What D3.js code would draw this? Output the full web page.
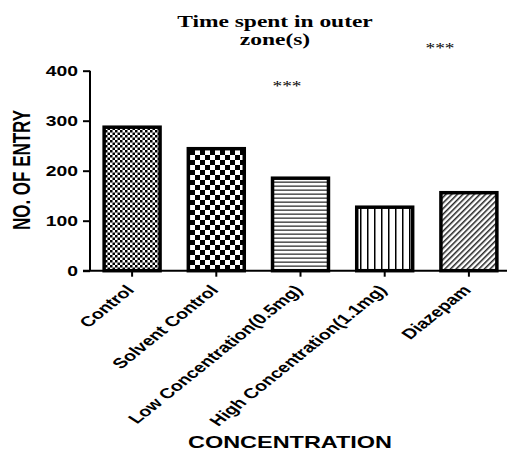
<!DOCTYPE html>
<html>
<head>
<meta charset="utf-8">
<script src="https://cdn.jsdelivr.net/npm/d3@7"></script>
<style>
  html, body { margin: 0; padding: 0; background: #fff; }
  svg { display: block; }
</style>
</head>
<body>
<div id="chart"></div>
<script>
(function () {
  // data
  const categories = ["Control", "Solvent Control", "Low Concentration(0.5mg)", "High Concentration(1.1mg)", "Diazepam"];
  const values = [287, 244, 185, 127, 156];
  const patterns = ["checkFine", "checkCoarse", "hLines", "vLines", "diag"];
  const yTicks = [0, 100, 200, 300, 400];
  const stars = [{ x: 287, y: 91, text: "***" }, { x: 440, y: 53, text: "***" }];

  const width = 507;
  const height = 450;
  const sx = 1.38; // the original picture is stretched sideways

  const svg = d3.select("#chart")
    .append("svg")
    .attr("width", width)
    .attr("height", height);

  // fill patterns
  const defs = svg.append("defs");

  const pf = defs.append("pattern").attr("id", "checkFine")
    .attr("patternUnits", "userSpaceOnUse").attr("width", 5).attr("height", 5);
  pf.append("rect").attr("width", 5).attr("height", 5).attr("fill", "#fff");
  pf.append("rect").attr("width", 2.5).attr("height", 2.5).attr("fill", "#000");
  pf.append("rect").attr("x", 2.5).attr("y", 2.5).attr("width", 2.5).attr("height", 2.5).attr("fill", "#000");

  const pc = defs.append("pattern").attr("id", "checkCoarse")
    .attr("patternUnits", "userSpaceOnUse").attr("width", 10).attr("height", 10);
  pc.append("rect").attr("width", 10).attr("height", 10).attr("fill", "#fff");
  pc.append("rect").attr("width", 5).attr("height", 5).attr("fill", "#000");
  pc.append("rect").attr("x", 5).attr("y", 5).attr("width", 5).attr("height", 5).attr("fill", "#000");

  const ph = defs.append("pattern").attr("id", "hLines")
    .attr("patternUnits", "userSpaceOnUse").attr("width", 8).attr("height", 4);
  ph.append("rect").attr("width", 8).attr("height", 4).attr("fill", "#fff");
  ph.append("rect").attr("y", 1.5).attr("width", 8).attr("height", 1.3).attr("fill", "#333");

  const pv = defs.append("pattern").attr("id", "vLines")
    .attr("patternUnits", "userSpaceOnUse").attr("width", 7).attr("height", 8);
  pv.append("rect").attr("width", 7).attr("height", 8).attr("fill", "#fff");
  pv.append("rect").attr("x", 3).attr("width", 1.5).attr("height", 8).attr("fill", "#000");

  const pd = defs.append("pattern").attr("id", "diag")
    .attr("patternUnits", "userSpaceOnUse").attr("width", 4).attr("height", 4)
    .attr("patternTransform", "rotate(45)");
  pd.append("rect").attr("width", 4).attr("height", 4).attr("fill", "#fff");
  pd.append("rect").attr("width", 1.5).attr("height", 4).attr("fill", "#222");

  const x = d3.scaleBand()
    .domain(categories)
    .range([90, 511])
    .paddingInner(0.3)
    .paddingOuter(0.15);

  const y = d3.scaleLinear()
    .domain([0, 400])
    .range([270.7, 70.7]);

  // bars
  svg.append("g")
    .selectAll("rect")
    .data(values)
    .enter()
    .append("rect")
    .attr("x", (d, i) => x(categories[i]) + 1.5)
    .attr("y", d => y(d))
    .attr("width", x.bandwidth() - 3)
    .attr("height", d => y(0) - y(d))
    .attr("fill", (d, i) => `url(#${patterns[i]})`)
    .attr("stroke", "#000")
    .attr("stroke-width", 3.5);

  // y axis
  const yAxis = svg.append("g")
    .attr("transform", "translate(90,0)")
    .call(d3.axisLeft(y).tickValues(yTicks).tickSize(7).tickFormat(d3.format("d")));
  yAxis.select(".domain").attr("stroke", "#000").attr("stroke-width", 2).attr("d", `M0,${y(400)}V${y(0)}`);
  yAxis.selectAll(".tick line").attr("stroke", "#000").attr("stroke-width", 2);
  yAxis.selectAll(".tick text").remove();
  yAxis.selectAll(".tick").append("g")
    .attr("transform", "translate(-12,0) scale(" + sx + ",1)")
    .append("text")
    .attr("text-anchor", "end")
    .attr("dy", "0.36em")
    .style("font-family", "'Liberation Sans', Arial, sans-serif")
    .style("font-weight", "bold")
    .style("font-size", "14px")
    .attr("fill", "#000")
    .text(d => d);

  // x axis
  const xAxis = svg.append("g")
    .attr("transform", `translate(0,${y(0)})`)
    .call(d3.axisBottom(x).tickSize(6).tickSizeOuter(0));
  xAxis.select(".domain").attr("stroke", "#000").attr("stroke-width", 2).attr("d", "M83,0H507");
  xAxis.selectAll(".tick line").attr("stroke", "#000").attr("stroke-width", 2);
  xAxis.selectAll(".tick text").remove();
  xAxis.selectAll(".tick").append("g")
    .attr("transform", "translate(3,20) scale(" + sx + ",1) rotate(-48)")
    .append("text")
    .attr("text-anchor", "end")
    .style("font-family", "'Liberation Sans', Arial, sans-serif")
    .style("font-weight", "bold")
    .style("font-size", "14.3px")
    .attr("fill", "#000")
    .text(d => d);

  // title
  const title = svg.append("g")
    .attr("transform", "translate(275,0) scale(" + sx + ",1)")
    .append("text")
    .attr("text-anchor", "middle")
    .style("font-family", "'Liberation Serif', 'Times New Roman', serif")
    .style("font-weight", "bold")
    .style("font-size", "17px")
    .attr("fill", "#000");
  title.append("tspan").attr("x", 0).attr("y", 27).text("Time spent in outer");
  title.append("tspan").attr("x", 0).attr("y", 45).text("zone(s)");

  // significance stars
  svg.append("g")
    .selectAll("g")
    .data(stars)
    .enter()
    .append("g")
    .attr("transform", d => `translate(${d.x},${d.y}) scale(${sx},1)`)
    .append("text")
    .attr("text-anchor", "middle")
    .style("font-family", "'Liberation Serif', 'Times New Roman', serif")
    .style("font-size", "14px")
    .attr("fill", "#000")
    .text(d => d.text);

  // axis titles
  svg.append("g")
    .attr("transform", "translate(30,170) scale(" + sx + ",1) rotate(-90)")
    .append("text")
    .attr("text-anchor", "middle")
    .style("font-family", "'Liberation Sans', Arial, sans-serif")
    .style("font-weight", "bold")
    .style("font-size", "17px")
    .attr("fill", "#000")
    .text("NO. OF ENTRY");

  svg.append("g")
    .attr("transform", "translate(290,448) scale(" + sx + ",1)")
    .append("text")
    .attr("text-anchor", "middle")
    .style("font-family", "'Liberation Sans', Arial, sans-serif")
    .style("font-weight", "bold")
    .style("font-size", "17px")
    .attr("fill", "#000")
    .text("CONCENTRATION");
})();
</script>
</body>
</html>
